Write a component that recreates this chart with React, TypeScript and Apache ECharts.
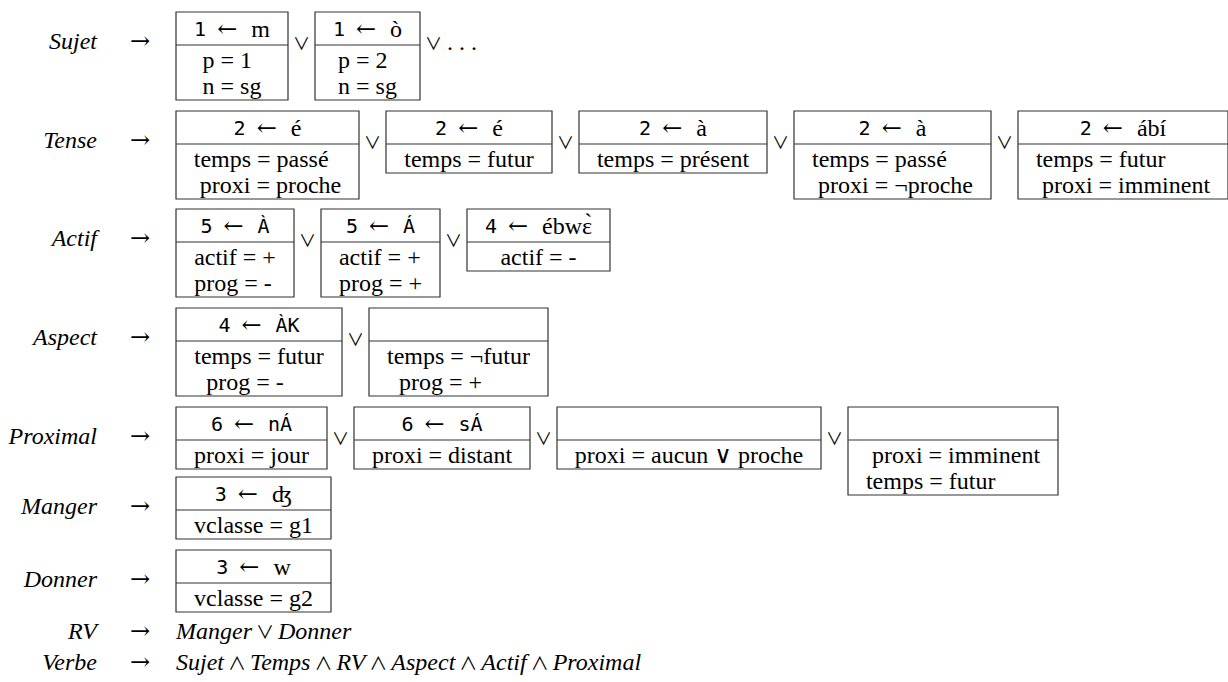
import React, { useEffect, useRef } from "react";
import * as echarts from "echarts";

type Entry = { slot: string; morph: string; feats: string[] };

const ROW_LABELS = ["Sujet", "Tense", "Actif", "Aspect", "Proximal", "Manger", "Donner"];

const SUJET: Entry[] = [
  { slot: "1", morph: "m", feats: ["p = 1", "n = sg"] },
  { slot: "1", morph: "ò", feats: ["p = 2", "n = sg"] },
];
const TENSE: Entry[] = [
  { slot: "2", morph: "é", feats: ["temps = passé", "\u00a0proxi = proche"] },
  { slot: "2", morph: "é", feats: ["temps = futur"] },
  { slot: "2", morph: "à", feats: ["temps = présent"] },
  { slot: "2", morph: "à", feats: ["temps = passé", "\u00a0proxi = ¬proche"] },
  { slot: "2", morph: "ábí", feats: ["temps = futur", "\u00a0proxi = imminent"] },
];
const ACTIF: Entry[] = [
  { slot: "5", morph: "À", feats: ["actif = +", "prog = -"] },
  { slot: "5", morph: "Á", feats: ["actif = +", "prog = +"] },
  { slot: "4", morph: "ébwɛ̀", feats: ["actif = -"] },
];
const ASPECT: Entry[] = [
  { slot: "4", morph: "ÀK", feats: ["temps = futur", "\u00a0\u00a0prog = -"] },
  { slot: "", morph: "", feats: ["temps = ¬futur", "\u00a0\u00a0prog = +"] },
];
const PROXIMAL: Entry[] = [
  { slot: "6", morph: "nÁ", feats: ["proxi = jour"] },
  { slot: "6", morph: "sÁ", feats: ["proxi = distant"] },
  { slot: "", morph: "", feats: ["proxi = aucun ∨ proche"] },
  { slot: "", morph: "", feats: ["\u00a0proxi = imminent", "temps = futur"] },
];
const MANGER: Entry[] = [{ slot: "3", morph: "ʤ", feats: ["vclasse = g1"] }];
const DONNER: Entry[] = [{ slot: "3", morph: "w", feats: ["vclasse = g2"] }];

const MONO_MORPHS = ["À", "Á", "ÀK", "nÁ", "sÁ"];
const SUJET_TRAIL = ". . .";

const RV_LABEL = "RV";
const RV_RHS = ["Manger", "Donner"];
const RV_OP = "∨";
const VERBE_LABEL = "Verbe";
const VERBE_RHS = ["Sujet", "Temps", "RV", "Aspect", "Actif", "Proximal"];
const VERBE_OP = "∧";

const ROWS = [SUJET, TENSE, ACTIF, ASPECT, PROXIMAL, MANGER, DONNER];

// layout (not data)
const ROW_TOP = [12, 111, 209, 308, 407, 477, 550];
const FORMULA_Y = [631, 662];
const BOX_X0 = 176;
const GAP = 27;
const HEAD_H = 33;
const LINE_H = 26;
const BODY_PAD = 3;
const LABEL_RIGHT = 97;
const ARROW_X = 140;
const G1 = 11;
const G2 = 14;
const OP_ADV = 14;

const SERIF = "'Liberation Serif', 'DejaVu Serif', serif";
const MONO = "'DejaVu Sans Mono', monospace";
const F_BODY = `24px ${SERIF}`;
const F_LABEL = `italic 24px ${SERIF}`;
const F_MONO = `20px ${MONO}`;
const F_ARROW = `24px 'DejaVu Serif', serif`;
const F_OP = `17px 'Noto Sans CJK SC', 'DejaVu Sans', sans-serif`;
const F_OP2 = `18px 'Noto Sans CJK SC', 'DejaVu Sans', sans-serif`;
const STROKE = "#333";

function txt(text: string, x: number, y: number, font: string, align: string) {
  return {
    type: "text",
    x,
    y,
    silent: true,
    style: {
      text,
      font,
      fill: "#000",
      align,
      verticalAlign: "middle",
      textAlign: align,
      textVerticalAlign: "middle",
    },
  };
}

function buildElements() {
  const canvas = document.createElement("canvas");
  const ctx = canvas.getContext("2d")!;
  const mw = (s: string, font: string) => {
    ctx.font = font;
    return ctx.measureText(s).width;
  };
  const els: any[] = [];
  const arrowW = mw("←", F_ARROW);

  ROWS.forEach((row, r) => {
    const top = ROW_TOP[r];
    const hl = top + HEAD_H;
    els.push(txt(ROW_LABELS[r], LABEL_RIGHT, hl - 4, F_LABEL, "right"));
    els.push(txt("→", ARROW_X, hl - 4, F_ARROW, "center"));
    let x = BOX_X0;
    row.forEach((e, i) => {
      const mFont = MONO_MORPHS.includes(e.morph) ? F_MONO : F_BODY;
      const sw = e.slot ? mw(e.slot, F_MONO) : 0;
      const morphW = e.morph ? mw(e.morph, mFont) : 0;
      const headerW = e.slot ? sw + G1 + arrowW + G2 + morphW : 0;
      const bodyW = Math.max(...e.feats.map((f) => mw(f, F_BODY)));
      const w = Math.round(Math.max(headerW, bodyW) + 36);
      const h = HEAD_H + e.feats.length * LINE_H + BODY_PAD;
      els.push({
        type: "rect",
        shape: { x, y: top, width: w, height: h },
        style: { fill: "#fff", stroke: STROKE, lineWidth: 1.2 },
      });
      els.push({
        type: "line",
        shape: { x1: x, y1: hl, x2: x + w, y2: hl },
        style: { stroke: STROKE, lineWidth: 1.2 },
      });
      if (e.slot) {
        const hs = x + w / 2 - headerW / 2;
        const hy = top + 17;
        els.push(txt(e.slot, hs, hy, F_MONO, "left"));
        els.push(txt("←", hs + sw + G1, hy, F_ARROW, "left"));
        els.push(txt(e.morph, hs + sw + G1 + arrowW + G2, hy, mFont, "left"));
      }
      const bx = x + (w - bodyW) / 2;
      e.feats.forEach((f, j) => {
        els.push(txt(f, bx, hl + 15 + j * LINE_H, F_BODY, "left"));
      });
      const right = x + w;
      if (i < row.length - 1 || r === 0) {
        els.push(txt("∨", right + GAP / 2, hl - 3, F_OP, "center"));
      }
      if (i === row.length - 1 && r === 0) {
        els.push(txt(SUJET_TRAIL, right + 27, hl - 3, F_BODY, "left"));
      }
      x = right + GAP;
    });
  });

  const formula = (label: string, names: string[], op: string, y: number) => {
    els.push(txt(label, LABEL_RIGHT, y, F_LABEL, "right"));
    els.push(txt("→", ARROW_X, y, F_ARROW, "center"));
    let x = BOX_X0;
    names.forEach((n, i) => {
      els.push(txt(n, x, y, F_LABEL, "left"));
      x += mw(n, F_LABEL);
      if (i < names.length - 1) {
        x += 6;
        els.push(txt(op, x + OP_ADV / 2, y, F_OP2, "center"));
        x += OP_ADV + 6;
      }
    });
  };
  formula(RV_LABEL, RV_RHS, RV_OP, FORMULA_Y[0]);
  formula(VERBE_LABEL, VERBE_RHS, VERBE_OP, FORMULA_Y[1]);
  return els;
}

export default function App() {
  const ref = useRef<HTMLDivElement>(null);
  useEffect(() => {
    if (!ref.current) return;
    const chart = echarts.init(ref.current, undefined, { renderer: "svg" });
    chart.setOption({
      animation: false,
      backgroundColor: "#fff",
      graphic: { elements: buildElements() },
    });
    return () => chart.dispose();
  }, []);
  return (
    <div
      ref={ref}
      style={{ position: "fixed", left: 0, top: 0, width: 1228, height: 682, background: "#fff" }}
    />
  );
}
